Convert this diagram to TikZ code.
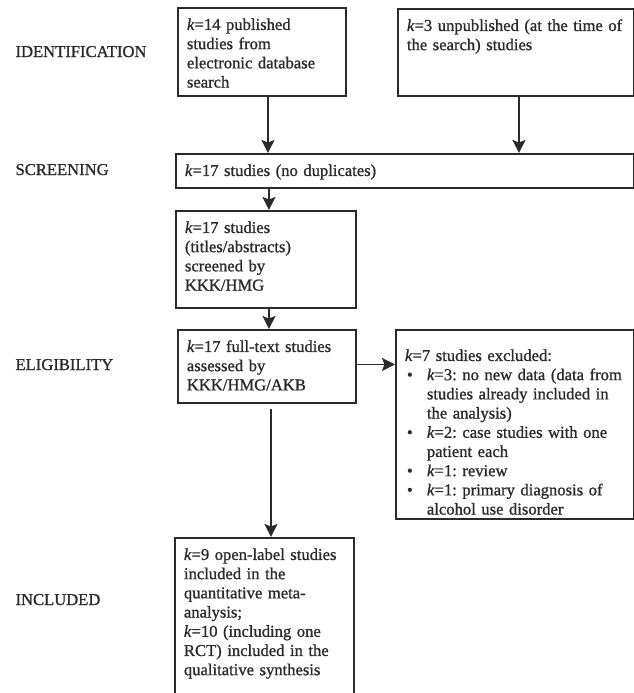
\documentclass[tikz,border=0pt]{standalone}
\usepackage{fontspec}
\setmainfont{Liberation Serif}[FakeBold=1]
\usetikzlibrary{arrows.meta}
\definecolor{ink}{HTML}{2A2A2A}
\newcommand{\kk}{\textit{k}}
\newcommand{\bul}{\makebox[22pt][l]{\hspace{2pt}\textbullet}}
\newcommand{\ind}{\hspace*{22pt}}
\frenchspacing

\begin{document}
\begin{tikzpicture}[x=1pt,y=-1pt,
    every node/.style={font=\fontsize{16.6}{19.2}\selectfont, text=ink},
    box/.style={draw=ink, line width=1.9pt, anchor=north west, align=left, inner xsep=9pt, inner ysep=8pt, text height=14pt},
    arr/.style={draw=ink, line width=1.9pt, -{Stealth[length=13pt,width=13pt,inset=2.5pt]}},
    stage/.style={anchor=base west}]
    \useasboundingbox (0,0) rectangle (634,693);
    % stages
    \node[stage] (lid) at (12,57) {IDENTIFICATION};
    \node[stage] (lscr) at (12,175) {SCREENING};
    \node[stage] (lel) at (12,370) {ELIGIBILITY};
    \node[stage] (linc) at (12,605) {INCLUDED};
    % identification
    \node[box, text width=150pt, text depth=58pt] (pub) at (177,7) {\kk=14 published\\studies from\\electronic database\\search};
    \node[box, text width=218pt, text depth=57pt] (unpub) at (397,8) {\kk=3 unpublished (at the time of\\the search) studies};
    % screening
    \node[box, text width=440pt, text depth=4pt] (scr) at (175,153) {\kk=17 studies (no duplicates)};
    \node[box, text width=162pt, text depth=67pt] (titles) at (175,210) {\kk=17 studies\\(titles/abstracts)\\screened by\\KKK/HMG};
    % eligibility
    \node[box, text width=160pt, text depth=43pt] (full) at (177,329) {\kk=17 full-text studies\\assessed by\\KKK/HMG/AKB};
    \node[box, text width=220pt, text height=23pt, text depth=150pt] (excl) at (395,329) {\kk=7 studies excluded:\\
        \bul\kk=3: no new data (data from\\\ind studies already included in\\\ind the analysis)\\
        \bul\kk=2: case studies with one\\\ind patient each\\
        \bul\kk=1: review\\
        \bul\kk=1: primary diagnosis of\\\ind alcohol use disorder};
    % included
    \node[box, text width=161pt, text depth=133pt] (incl) at (174,537) {\kk=9 open-label studies\\included in the\\quantitative meta-\\analysis;\\\kk=10 (including one\\RCT) included in the\\qualitative synthesis};
    % arrows
    \draw[arr] ([xshift=6pt]pub.south) -- ([xshift=6pt]pub.south |- scr.north);
    \draw[arr] ([xshift=3pt]unpub.south) -- ([xshift=3pt]unpub.south |- scr.north);
    \draw[arr] ([xshift=3pt]scr.south -| titles.north) -- ([xshift=3pt]titles.north);
    \draw[arr] ([xshift=3pt]titles.south) -- ([xshift=3pt]titles.south |- full.north);
    \draw[arr] ([yshift=2pt]full.east) -- ([yshift=2pt]full.east -| excl.west);
    \draw[arr] ([xshift=4pt,yshift=-5pt]full.south) -- ([xshift=4pt]full.south |- incl.north);
\end{tikzpicture}
\end{document}
